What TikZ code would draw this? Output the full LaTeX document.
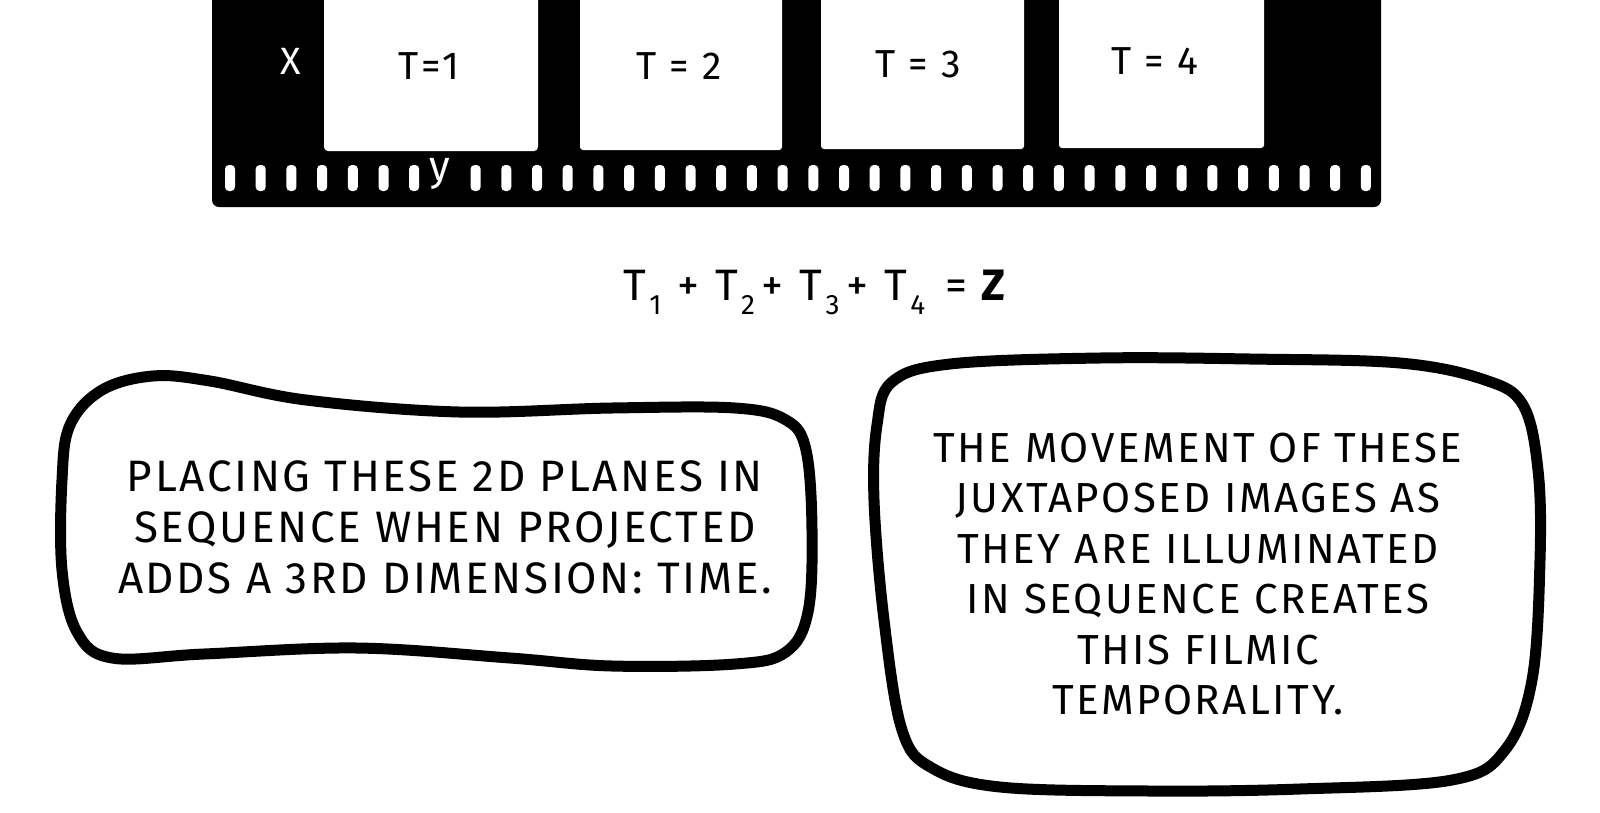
\documentclass[tikz,border=0pt]{standalone}
\usepackage{fontspec}
\setmainfont{Fira Sans}[LetterSpace=6]
\newcommand{\eqsub}[1]{\raisebox{-0.32em}{\fontsize{28}{28}\selectfont #1}}
\begin{document}
\begin{tikzpicture}[x=1pt,y=-1pt,
  framelbl/.style={font=\fontsize{39}{44}\selectfont, text=black, inner sep=0pt},
  filmlbl/.style={font=\fontsize{38}{44}\selectfont, text=white, inner sep=0pt},
  hole/.style={fill=white, rounded corners=4pt},
  bubble/.style={draw=black, line width=11pt, line join=round, fill=white},
  bubtextl/.style={font=\fontsize{44}{51}\selectfont, align=center, inner sep=0pt},
  bubtextr/.style={font=\fontsize{42}{50.5}\selectfont, align=center, inner sep=0pt},
  eqtext/.style={font=\fontsize{44}{48}\selectfont, inner sep=0pt}]
\useasboundingbox (0,0) rectangle (1600,812);
\begin{scope}
\clip (0,0) rectangle (1600,812);
% film strip
\fill[black, rounded corners=7pt] (212,-30) rectangle (1381,207);
\fill[white, rounded corners=4pt] (324,-30) rectangle (538,151);
\fill[white, rounded corners=3pt] (580,-30) rectangle (782,150);
\fill[white, rounded corners=3pt] (821,-30) rectangle (1024,149);
\fill[white, rounded corners=3pt] (1059,-30) rectangle (1264,148);
% sprocket holes
\foreach \k in {0,...,37}{
  \ifnum\k=7\relax\else
  \fill[hole] ({230+30.7*\k-5},165) rectangle ({230+30.7*\k+5},191);
  \fi}
\end{scope}
\node[filmlbl] (xl) at (291,61) {X};
\node[filmlbl, font=\fontsize{42}{44}\selectfont] (yl) at (440,174) {y};
\node[framelbl] (f1) at (429,66) {T=1};
\node[framelbl] (f2) at (679,66) {T\,\,=\,\,2};
\node[framelbl] (f3) at (918,64) {T\,\,=\,\,3};
\node[framelbl] (f4) at (1155,61) {T\,\,=\,\,4};
% equation
\node[eqtext] (eq) at (816,292) {T\hspace{3pt}\eqsub{1}\hspace{16pt}+\hspace{16pt}T\hspace{3pt}\eqsub{2}\hspace{7pt}+\hspace{16pt}T\hspace{3pt}\eqsub{3}\hspace{7pt}+\hspace{16pt}T\hspace{3pt}\eqsub{4}\hspace{20pt}=\hspace{12pt}\textbf{Z}};
% left bubble
\draw[bubble] plot[smooth cycle, tension=0.6] coordinates {
  (62,480) (70,425) (102,390) (153,376) (210,381) (306,400) (459,412)
  (612,408) (735,408) (786,420) (806,450) (812,530) (808,612) (786,652)
  (735,664) (612,666) (510,658) (357,648) (204,654) (112,658) (77,632) (62,570)};
\node[bubtextl] (lt) at (445,527) {PLACING THESE 2D PLANES IN\\SEQUENCE WHEN PROJECTED\\ADDS A 3RD DIMENSION: TIME.};
% right bubble
\draw[bubble] plot[smooth cycle, tension=0.6] coordinates {
  (892,382) (950,364) (1100,358) (1250,359) (1400,363) (1485,380)
  (1523,405) (1538,470) (1540,560) (1532,680) (1505,750) (1452,780)
  (1300,789) (1150,791) (1000,787) (932,768) (902,730) (884,620)
  (874,500) (877,425)};
\node[bubtextr] (rt) at (1198,574) {THE MOVEMENT OF THESE\\JUXTAPOSED IMAGES AS\\THEY ARE ILLUMINATED\\IN SEQUENCE CREATES\\THIS FILMIC\\TEMPORALITY.};
\end{tikzpicture}
\end{document}
